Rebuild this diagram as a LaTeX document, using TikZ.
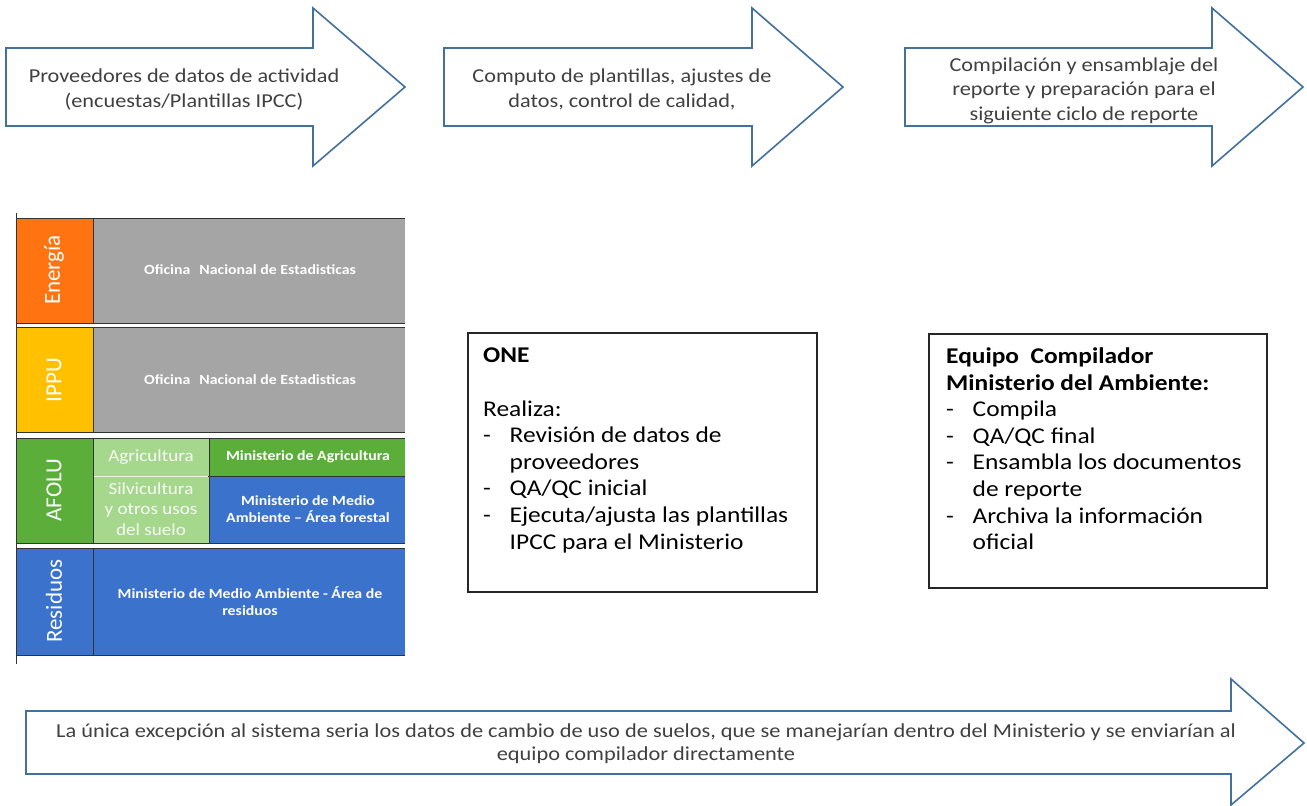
\documentclass[tikz,border=0pt]{standalone}
\usepackage{fontspec}
\setmainfont{Carlito}[FakeStretch=1.13]
\newfontfamily\labelfont{Carlito}
\definecolor{arrowblue}{HTML}{41719C}
\definecolor{textgray}{HTML}{404040}
\definecolor{cOrange}{HTML}{FF7410}
\definecolor{cYellow}{HTML}{FFC000}
\definecolor{cGray}{HTML}{A5A5A5}
\definecolor{cGreen}{HTML}{5BAE3A}
\definecolor{cLight}{HTML}{A5D78C}
\definecolor{cBlue}{HTML}{3B73CC}
\tikzset{
  flow/.style={draw=arrowblue, line width=1.6pt, fill=white, line join=miter},
  flowtext/.style={align=center, font=\fontsize{19.7}{24.5}\selectfont, text=textgray, inner sep=0pt},
  infobox/.style={draw=black!85, line width=1.2pt, fill=white},
  infotext/.style={align=left, font=\fontsize{22.5}{26.6}\selectfont, text=black, inner sep=0pt},
  tline/.style={draw=black!80, line width=1pt},
  sector/.style={font=\labelfont\fontsize{23}{26}\selectfont, text=white, rotate=90, inner sep=0pt},
  agency/.style={font=\bfseries\fontsize{14}{16.8}\selectfont, text=white, align=center, inner sep=0pt},
  sub/.style={font=\fontsize{16.9}{20.5}\selectfont, text=white!93!cLight, align=center, inner sep=0pt},
}
\newcommand{\dash}{\makebox[26.5pt][l]{-}}
\newcommand{\ind}{\hspace*{26.5pt}}
\begin{document}
\begin{tikzpicture}[x=1pt,y=-1pt]
\useasboundingbox (0,0) rectangle (1307,806);
\fill[white] (0,0) rectangle (1307,806);

% top arrows
\draw[flow] (6,48) -- (313,48) -- (313,8) -- (405,87) -- (313,166) -- (313,126) -- (6,126) -- cycle;
\draw[flow] (444,48) -- (752,48) -- (752,8) -- (843,87) -- (752,166) -- (752,126) -- (444,126) -- cycle;
\draw[flow] (905,48) -- (1212,48) -- (1212,8) -- (1303,87) -- (1212,166) -- (1212,126) -- (905,126) -- cycle;
\node[flowtext] (t1) at (184,89.5) {Proveedores de datos de actividad\\(encuestas/Plantillas IPCC)};
\node[flowtext] (t2) at (622,89.5) {Computo de plantillas, ajustes de\\datos, control de calidad,};
\node[flowtext] (t3) at (1084,90.5) {Compilación y ensamblaje del\\reporte y preparación para el\\siguiente ciclo de reporte};

% bottom arrow
\draw[flow] (26,711) -- (1231,711) -- (1231,679) -- (1304,743) -- (1231,805) -- (1231,774) -- (26,774) -- cycle;
\node[align=center, font=\fontsize{19.8}{23}\selectfont, text=textgray, inner sep=0pt] (t4) at (646,743.5)
  {La única excepción al sistema seria los datos de cambio de uso de suelos, que se manejarían dentro del Ministerio y se enviarían al\\equipo compilador directamente};

% table
\fill[cOrange] (16,218) rectangle (93,323);
\fill[cGray] (93,218) rectangle (405,323);
\fill[cYellow] (16,327) rectangle (93,432);
\fill[cGray] (93,327) rectangle (405,432);
\fill[cGreen] (16,438) rectangle (93,543);
\fill[cLight] (93,438) rectangle (209,543);
\fill[cGreen] (209,438) rectangle (405,476);
\fill[cBlue] (209,476) rectangle (405,543);
\fill[cBlue] (16,548) rectangle (405,655);
\draw[tline] (16,218) -- (405,218) (16,323) -- (405,323) (93,218) -- (93,323);
\draw[tline] (16,327) -- (405,327) (16,432) -- (405,432) (93,327) -- (93,432);
\draw[tline] (16,438) -- (405,438) (16,543) -- (405,543) (93,438) -- (93,543);
\draw[tline] (93,476) -- (405,476) (209,438) -- (209,543);
\draw[draw=white!80!cLight, line width=0.8pt] (94,476) -- (208,476);
\draw[tline] (16,548) -- (405,548) (16,655) -- (405,655) (93,548) -- (93,655);
\draw[draw=black!80, line width=0.8pt] (16,213) -- (16,664);

\node[sector] (energia) at (54,270) {Energía};
\node[sector] (ippu) at (54,380) {IPPU};
\node[sector] (afolu) at (54,490) {AFOLU};
\node[sector] (residuos) at (54,601) {Residuos};
\node[agency] (one1) at (250,270) {Oficina\hspace{9pt}Nacional de Estadisticas};
\node[agency] (one2) at (250,380) {Oficina\hspace{9pt}Nacional de Estadisticas};
\node[sub] (agri) at (151,457) {Agricultura};
\node[sub] (silvi) at (151,509) {Silvicultura\\y otros usos\\del suelo};
\node[agency] (minag) at (308,457) {Ministerio de Agricultura};
\node[agency] (minfor) at (308,509) {Ministerio de Medio\\Ambiente -- Área forestal};
\node[agency] (minres) at (250,601) {Ministerio de Medio Ambiente - Área de\\residuos};

% info boxes
\draw[infobox] (468,333) rectangle (817,592);
\node[infotext, anchor=north west] (onetext) at (483,348)
  {\textbf{ONE}\\[26.6pt]Realiza:\\\dash Revisión de datos de\\\ind proveedores\\\dash QA/QC inicial\\\dash Ejecuta/ajusta las plantillas\\\ind IPCC para el Ministerio};
\draw[infobox] (929,334) rectangle (1267,588);
\node[infotext, anchor=north west] (eqtext) at (946,347.5)
  {\textbf{Equipo\ \ Compilador}\\\textbf{Ministerio del Ambiente:}\\\dash Compila\\\dash QA/QC final\\\dash Ensambla los documentos\\\ind de reporte\\\dash Archiva la información\\\ind oficial};
\end{tikzpicture}
\end{document}
